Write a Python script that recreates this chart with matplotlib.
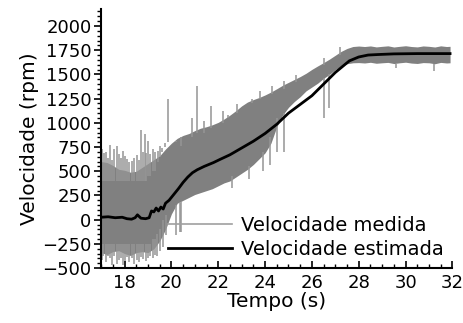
import numpy as np
from matplotlib import pyplot as plt
from matplotlib.ticker import MultipleLocator

# measured speed: dense band of the noisy signal (rpm)
t_band = [17.0, 17.25, 17.5, 17.75, 18.0, 18.25, 18.5, 18.75, 19.0, 19.25,
          19.5, 19.75, 20.0, 20.25, 20.5, 20.75, 21.0, 21.25, 21.5, 21.75,
          22.0, 22.25, 22.5, 22.75, 23.0, 23.25, 23.5, 23.75, 24.0, 24.25,
          24.5, 24.75, 25.0, 25.25, 25.5, 25.75, 26.0, 26.25, 26.5, 26.75,
          27.0, 27.25, 27.5, 27.75, 28.0, 28.25, 28.5, 28.75, 29.0, 29.25,
          29.5, 29.75, 30.0, 30.25, 30.5, 30.75, 31.0, 31.25, 31.5, 31.75, 31.9]
band_hi = [600, 590, 560, 520, 510, 490, 500, 540, 580, 620,
           660, 730, 790, 840, 870, 890, 920, 945, 960, 980,
           1005, 1040, 1080, 1125, 1175, 1215, 1240, 1262, 1288, 1318,
           1352, 1388, 1418, 1448, 1478, 1512, 1552, 1588, 1622, 1658,
           1698, 1738, 1768, 1788, 1793, 1788, 1794, 1784, 1790, 1795,
           1783, 1790, 1796, 1788, 1784, 1794, 1790, 1783, 1795, 1788, 1790]
band_lo = [-340, -360, -330, -320, -350, -370, -340, -330, -340, -300,
           -220, -100, 60, 170, 200, 230, 260, 280, 300, 320,
           350, 380, 400, 440, 480, 520, 570, 630, 690, 790,
           960, 1080, 1160, 1220, 1270, 1330, 1370, 1410, 1460, 1500,
           1550, 1590, 1610, 1620, 1622, 1618, 1625, 1615, 1620, 1624,
           1612, 1620, 1626, 1617, 1613, 1622, 1620, 1610, 1624, 1618, 1620]

# isolated peaks of the measured signal: time, base, tip
spike_t = [17.03, 17.12, 17.2, 17.3, 17.38, 17.47, 17.56, 17.66, 17.75, 17.85,
           17.94, 18.02, 18.12, 18.2, 18.3, 18.4, 18.51, 18.6, 18.72, 18.8,
           18.86, 18.93, 19.0, 19.1, 19.22, 19.32, 19.42, 19.5, 19.6, 19.71,
           19.85, 20.2, 20.42, 20.9, 21.1, 21.4, 21.7, 22.2, 22.4, 22.8,
           23.2, 23.45, 23.8, 24.3, 24.8, 25.3, 26.5, 27.2]
spike_base = [400, 400, 400, 400, 400, 400, 400, 400, 400, 400,
              400, 400, 400, 400, 400, 400, 400, 400, 400, 400,
              400, 400, 450, 450, 500, 500, 600, 650, 700, 750,
              800, 800, 850, 850, 900, 900, 950, 1000, 1050, 1100,
              1150, 1200, 1250, 1300, 1350, 1420, 1600, 1700]
spike_tip = [725, 690, 700, 640, 775, 620, 725, 760, 680, 640,
             705, 660, 630, 600, 610, 640, 670, 620, 930, 700,
             880, 690, 810, 680, 725, 700, 705, 760, 740, 790,
             1250, 810, 760, 1050, 1380, 1020, 1170, 1120, 1080, 1190,
             1150, 1250, 1330, 1380, 1430, 1490, 1670, 1780]

dip_t = [17.03, 17.1, 17.2, 17.28, 17.38, 17.47, 17.56, 17.66, 17.75, 17.85,
         17.94, 18.02, 18.12, 18.2, 18.3, 18.4, 18.51, 18.6, 18.72, 18.8,
         18.9, 19.0, 19.1, 19.2, 19.3, 19.4, 19.5, 19.62, 19.75, 20.2,
         20.35, 20.42, 22.6, 23.3, 23.9, 24.2, 24.5, 24.8, 26.5, 26.75,
         29.6, 31.2]
dip_base = [-250, -250, -250, -250, -250, -250, -250, -250, -250, -250,
            -250, -250, -250, -250, -250, -250, -250, -250, -250, -250,
            -250, -250, -250, -200, -200, -150, -100, 0, 50, 150,
            170, 180, 450, 550, 700, 850, 1050, 1100, 1460, 1500,
            1610, 1610]
dip_tip = [-420, -380, -440, -370, -400, -470, -380, -460, -420, -400,
           -470, -430, -390, -440, -400, -460, -420, -440, -390, -410,
           -430, -400, -380, -400, -360, -380, -320, -280, -160, -160,
           -130, -125, 330, 420, 500, 560, 700, 700, 1050, 1150,
           1570, 1535]

# estimated speed (rpm)
t_est = [17.0, 17.3, 17.6, 17.9, 18.1, 18.3, 18.45, 18.55, 18.7, 18.9,
         19.05, 19.15, 19.25, 19.35, 19.45, 19.55, 19.65, 19.75, 19.9, 20.1,
         20.3, 20.5, 20.7, 20.9, 21.1, 21.4, 21.8, 22.1, 22.5, 23.0,
         23.5, 24.0, 24.5, 25.0, 25.5, 26.0, 26.5, 27.0, 27.3, 27.6,
         28.0, 28.4, 28.8, 29.5, 30.5, 31.9]
v_est = [25, 30, 20, 25, 10, 5, 20, 50, 15, 10,
         20, 90, 80, 120, 90, 130, 110, 170, 200, 260,
         320, 385, 440, 485, 515, 550, 590, 625, 670, 740,
         810, 890, 985, 1100, 1190, 1280, 1400, 1520, 1580, 1640,
         1680, 1700, 1705, 1712, 1715, 1715]

plt.rcParams['font.family'] = ['DejaVu Sans']

fig = plt.figure(figsize=(4.64, 3.23), dpi=100)
ax = fig.add_axes([0.218, 0.170, 0.757, 0.802])

gray = '#808080'
ax.fill_between(t_band, band_lo, band_hi, color=gray, lw=0)
ax.vlines(spike_t, spike_base, spike_tip, color='#959595', lw=1.1)
ax.vlines(dip_t, dip_base, dip_tip, color='#959595', lw=1.1)
ax.plot([], [], color='#a0a0a0', lw=1.2, label='Velocidade medida')
ax.plot(t_est, v_est, color='black', lw=2, label='Velocidade estimada')

ax.set_xlim(17, 32)
ax.set_ylim(-500, 2175)
ax.set_xticks(np.arange(18, 33, 2))
ax.set_yticks(np.arange(-500, 2001, 250))
ax.xaxis.set_minor_locator(MultipleLocator(0.5))
ax.yaxis.set_minor_locator(MultipleLocator(50))
ax.tick_params(axis='both', which='major', labelsize=13, width=1.2, length=5)
ax.tick_params(axis='both', which='minor', width=1, length=3)
ax.tick_params(axis='x', which='both', direction='in', pad=4)
ax.tick_params(axis='y', which='both', direction='out', pad=2)

for side in ['top', 'right']:
    ax.spines[side].set_visible(False)
for side in ['left', 'bottom']:
    ax.spines[side].set_linewidth(1.5)

ax.set_xlabel('Tempo (s)', fontsize=14.5, labelpad=0)
ax.set_ylabel('Velocidade (rpm)', fontsize=14.5, labelpad=2)
ax.legend(loc='lower right', bbox_to_anchor=(1.01, -0.01), frameon=False,
          fontsize=14, handlelength=3.3, handletextpad=0.5, labelspacing=0.25,
          borderpad=0.1)

fig.savefig('out.png', dpi=100)
